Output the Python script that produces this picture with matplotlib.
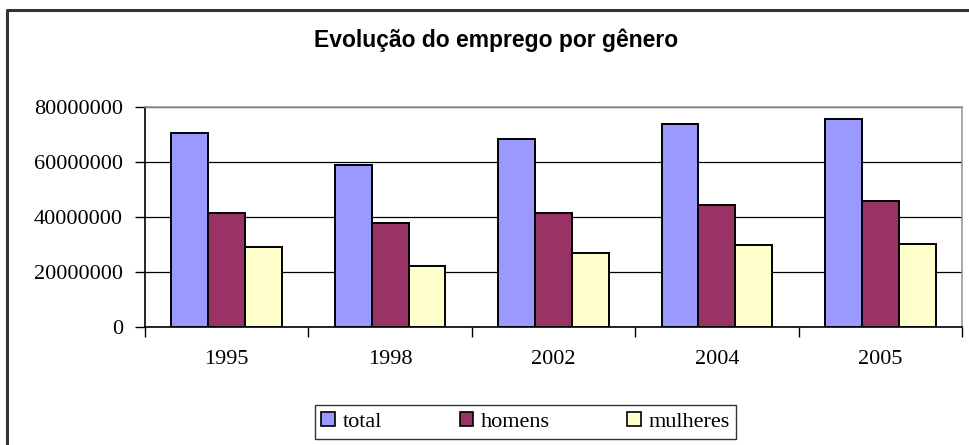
import numpy as np
import matplotlib
matplotlib.use("Agg")
import matplotlib.pyplot as plt
from matplotlib.lines import Line2D

years = ["1995", "1998", "2002", "2004", "2005"]
total = [70300000, 58900000, 68400000, 73800000, 75600000]
homens = [41500000, 37600000, 41300000, 44100000, 45600000]
mulheres = [28900000, 22100000, 26800000, 29600000, 30100000]

series = [("total", total, "#9999ff"),
          ("homens", homens, "#993366"),
          ("mulheres", mulheres, "#ffffcc")]

fig = plt.figure(figsize=(9.7, 4.45), dpi=100)
ax = fig.add_axes([145 / 970, 1 - 326.7 / 445, 817 / 970, 220 / 445])

# outer chart frame: only the left and top edges are inside the picture
fx, fy = 7.5 / 970, 1 - 10 / 445
fig.lines.append(Line2D([fx, fx, 1.05], [-0.05, fy, fy], transform=fig.transFigure,
                        color="#333333", linewidth=2.2))

x = np.arange(len(years))
w = 0.226
for i, (name, vals, color) in enumerate(series):
    ax.bar(x + (i - 1) * w, vals, w, color=color, edgecolor="black",
           linewidth=1.4, label=name, zorder=3)

ax.set_xlim(-0.5, len(years) - 0.5)
ax.set_ylim(0, 80000000)
ax.set_yticks(np.arange(0, 80000001, 20000000))
ax.set_yticklabels([str(v) for v in range(0, 80000001, 20000000)],
                   family="Liberation Serif", fontsize=16)
ax.yaxis.grid(True, color="black", linewidth=0.9, zorder=0)
ax.set_xticks(x)
ax.set_xticklabels(years, family="Liberation Serif", fontsize=16)
ax.set_xticks(np.arange(-0.5, len(years)), minor=True)
ax.tick_params(axis="x", which="major", length=0, pad=17)
ax.tick_params(axis="x", which="minor", length=7, width=1, color="black")
ax.tick_params(axis="y", length=7, width=1, pad=9)

for s in ["left", "bottom"]:
    ax.spines[s].set_color("black")
    ax.spines[s].set_linewidth(1.2)
for s in ["top", "right"]:
    ax.spines[s].set_color("#999999")
    ax.spines[s].set_linewidth(1.2)

fig.text(0.511, 1 - 40 / 445, "Evolução do emprego por gênero",
         ha="center", va="center", family="Liberation Sans",
         fontweight="bold", fontsize=16.5)

leg = fig.legend(loc="center", bbox_to_anchor=(525.5 / 970, 1 - 422 / 445),
                 ncol=3, frameon=True, fancybox=False, edgecolor="black",
                 prop={"family": "Liberation Serif", "size": 16},
                 handlelength=0.6, handleheight=0.6, handletextpad=0.35,
                 columnspacing=3.5, borderpad=0.3, borderaxespad=0)
leg.get_frame().set_linewidth(1.0)
for h in leg.legend_handles:
    h.set_linewidth(1.2)

fig.savefig("out.png", dpi=100)
